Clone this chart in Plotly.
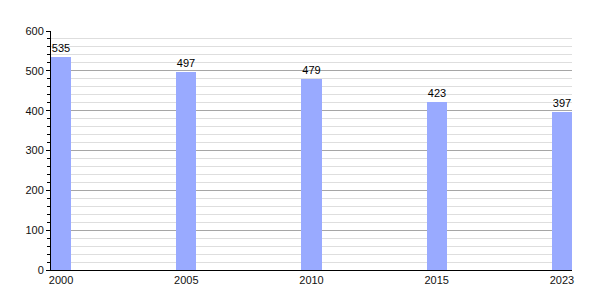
import plotly.graph_objects as go

years = ["2000", "2005", "2010", "2015", "2023"]
values = [535, 497, 479, 423, 397]
positions = list(range(len(years)))

fig = go.Figure()
fig.add_trace(go.Bar(
    x=positions, y=values, width=0.16,
    marker=dict(color="#99aaff", line=dict(width=0)),
    text=[str(v) for v in values], textposition="outside",
    textfont=dict(family="Liberation Sans, Arial, sans-serif", size=11, color="#000000"),
    cliponaxis=False,
))
fig.update_layout(
    width=600, height=300,
    margin=dict(l=51, r=28, t=31, b=30),
    paper_bgcolor="white", plot_bgcolor="white",
    showlegend=False,
    bargap=0,
    font=dict(family="Liberation Sans, Arial, sans-serif", size=11, color="#111111"),
    xaxis=dict(
        range=[-0.08, 4.08], tickvals=positions, ticktext=years,
        showgrid=False, zeroline=False, showline=True, linecolor="black", linewidth=1,
        ticks="", tickfont=dict(size=11, color="#111111"),
    ),
    yaxis=dict(
        range=[0, 600], dtick=100, tick0=0,
        showgrid=True, gridcolor="#a6a6a6", gridwidth=1,
        zeroline=False, showline=True, linecolor="black", linewidth=1,
        ticks="outside", ticklen=4, tickcolor="black",
        tickfont=dict(size=11, color="#111111"),
        minor=dict(dtick=20, tick0=0, showgrid=True, gridcolor="#dedede", gridwidth=1,
                   ticks="outside", ticklen=3, tickcolor="black"),
    ),
)
fig.write_html("out.html")
